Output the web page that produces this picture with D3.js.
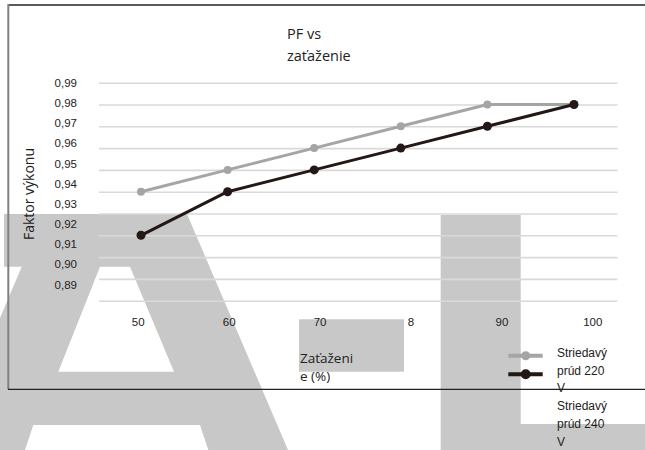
<!DOCTYPE html>
<html>
<head>
<meta charset="utf-8">
<script src="https://cdn.jsdelivr.net/npm/d3@7"></script>
<style>
  html, body { margin: 0; padding: 0; background: #fff; }
  svg { display: block; }
</style>
</head>
<body>
<svg id="chart" width="645" height="450"></svg>
<script>
// ---- data ----
const categories = ["50", "60", "70", "8", "90", "100"];
const series220 = [0.94, 0.95, 0.96, 0.97, 0.98, 0.98];
const series240 = [0.92, 0.94, 0.95, 0.96, 0.97, 0.98];
const yTicks = [0.99, 0.98, 0.97, 0.96, 0.95, 0.94, 0.93, 0.92, 0.91, 0.90, 0.89];
const seriesNames = [["Striedavý", "prúd 220", "V"], ["Striedavý", "prúd 240", "V"]];
const titleLines = ["PF vs", "zaťaženie"];
const xTitleLines = ["Zaťaženi", "e (%)"];
const yTitle = "Faktor výkonu";

const svg = d3.select("#chart");

// ---- background watermark shapes ----
const bg = svg.append("g").attr("fill", "#c8c8c8");
const pathA = d3.path();
[[4,214],[187,214],[288,450],[0,450],[0,318],[21.7,266.7],[4,266.7]].forEach((p,i)=> i? pathA.lineTo(p[0],p[1]) : pathA.moveTo(p[0],p[1]));
pathA.closePath();
[[100,266.7],[130,266.7],[174,371.7],[58.3,371.7]].forEach((p,i)=> i? pathA.lineTo(p[0],p[1]) : pathA.moveTo(p[0],p[1]));
pathA.closePath();
[[33.3,425],[200,425],[208.3,450],[25,450]].forEach((p,i)=> i? pathA.lineTo(p[0],p[1]) : pathA.moveTo(p[0],p[1]));
pathA.closePath();
bg.append("path").attr("d", pathA.toString()).attr("fill-rule", "evenodd");
bg.append("path").attr("d", "M440.7,215H520.7V424H645V450H440.7Z");
bg.append("rect").attr("x", 299).attr("y", 319.3).attr("width", 105).attr("height", 52.4);

// ---- scales ----
const x = d3.scalePoint().domain(categories).range([141, 574]);
const xLabel = d3.scalePoint().domain(categories).range([137.7, 592.3]);
const y = d3.scaleLinear().domain([0.89, 0.99]).range([300.7, 82.7]);
const yLabel = d3.scaleLinear().domain([0.89, 0.99]).range([284, 82.5]);

// ---- gridlines ----
svg.append("g")
  .attr("transform", "translate(99,0)")
  .call(d3.axisLeft(y).tickValues(yTicks).tickSize(-518.5).tickFormat(""))
  .call(g => g.select(".domain").remove())
  .call(g => g.selectAll("line").attr("stroke", "#d9d9d9").attr("stroke-width", 1.6));

// ---- y tick labels ----
svg.append("g")
  .attr("transform", "translate(77,0)")
  .call(d3.axisLeft(yLabel).tickValues(yTicks).tickSize(0).tickPadding(0)
        .tickFormat(d => d3.format(".2f")(d).replace(".", ",")))
  .call(g => g.select(".domain").remove())
  .call(g => g.selectAll("text")
      .attr("font-family", "'Liberation Sans', Arial, sans-serif")
      .attr("font-size", 11.5).attr("fill", "#222").attr("dy", "0.35em"));

// ---- x tick labels ----
svg.append("g")
  .attr("transform", "translate(0,325.5)")
  .call(d3.axisBottom(xLabel).tickSize(0).tickPadding(0))
  .call(g => g.select(".domain").remove())
  .call(g => g.selectAll("text")
      .attr("font-family", "'Liberation Sans', Arial, sans-serif")
      .attr("font-size", 11.5).attr("fill", "#222").attr("dy", 0).attr("y", 0));

// ---- lines ----
const line = d3.line().x((d, i) => x(categories[i])).y(d => y(d));
const seriesList = [
  { values: series220, color: "#a5a5a5", r: 4 },
  { values: series240, color: "#231815", r: 4.5 }
];
seriesList.forEach(s => {
  svg.append("path").datum(s.values).attr("d", line)
    .attr("fill", "none").attr("stroke", s.color).attr("stroke-width", 3)
    .attr("stroke-linejoin", "round");
  svg.append("g").selectAll("circle").data(s.values).join("circle")
    .attr("cx", (d, i) => x(categories[i])).attr("cy", d => y(d))
    .attr("r", s.r).attr("fill", s.color);
});

// ---- title ----
const fontSans = "'Open Sans', 'Noto Sans', sans-serif";
svg.append("text").attr("font-family", fontSans).attr("font-size", 14.5).attr("fill", "#222")
  .selectAll("tspan").data(titleLines).join("tspan")
  .attr("x", 287).attr("y", (d, i) => 39 + i * 21.7).text(d => d);

// ---- x title ----
svg.append("text").attr("font-family", fontSans).attr("font-size", 13.5).attr("fill", "#222")
  .selectAll("tspan").data(xTitleLines).join("tspan")
  .attr("x", 300).attr("y", (d, i) => 362.5 + i * 18.3).text(d => d);

// ---- y title ----
svg.append("text").attr("font-family", fontSans).attr("font-size", 14).attr("fill", "#222")
  .attr("text-anchor", "middle")
  .attr("transform", "translate(34,194) rotate(-90)")
  .text(yTitle);

// ---- legend ----
const legendY = [355.7, 374.3];
seriesList.forEach((s, i) => {
  svg.append("line").attr("x1", 508.3).attr("x2", 542.7)
    .attr("y1", legendY[i]).attr("y2", legendY[i])
    .attr("stroke", s.color).attr("stroke-width", 4);
  svg.append("circle").attr("cx", 525.7).attr("cy", legendY[i]).attr("r", s.r + 0.5).attr("fill", s.color);
});
const legendLines = seriesNames.flat();
svg.append("text").attr("font-family", "'Liberation Sans', Arial, sans-serif")
  .attr("font-size", 12).attr("fill", "#222")
  .selectAll("tspan").data(legendLines).join("tspan")
  .attr("x", 557).attr("y", (d, i) => 357 + i * 17.7).text(d => d);

// ---- frame ----
svg.append("line").attr("x1", 8).attr("x2", 645).attr("y1", 5).attr("y2", 5)
  .attr("stroke", "#5a5a5a").attr("stroke-width", 2);
svg.append("line").attr("x1", 8.3).attr("x2", 8.3).attr("y1", 4).attr("y2", 389.3)
  .attr("stroke", "#808080").attr("stroke-width", 2);
svg.append("line").attr("x1", 8).attr("x2", 645).attr("y1", 389.3).attr("y2", 389.3)
  .attr("stroke", "#222").attr("stroke-width", 1.2);
</script>
</body>
</html>
